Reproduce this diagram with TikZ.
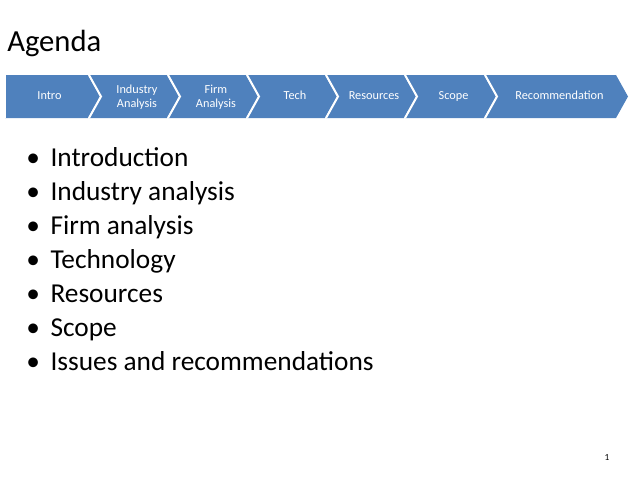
\documentclass[tikz,border=0pt]{standalone}
\usepackage{fontspec}
\setmainfont{Carlito}
\begin{document}
\begin{tikzpicture}[x=0.75pt,y=-0.75pt,
  chevtext/.style={text=white, font=\fontsize{9.2}{10.5}\selectfont, align=center},
  item/.style={anchor=base west, font=\fontsize{20.5}{24}\selectfont, inner sep=0pt}]
\useasboundingbox (0,0) rectangle (638,479);
\definecolor{chevblue}{RGB}{79,129,189}
\node[anchor=base west, inner sep=0pt, font=\fontsize{23}{26}\selectfont] (title) at (7,51) {Agenda};
\def\yt{75}\def\yb{118}\def\ym{96.5}
\foreach \L/\R/\notch/\name/\txt in {5/88/0/c1/Intro, 89/167/12/c2/{Industry\\Analysis}, 168/246/12/c3/{Firm\\Analysis}, 247/325/12/c4/Tech, 326/404/12/c5/Resources, 405/484/12/c6/Scope, 485/616/12/c7/Recommendation}{
  \fill[chevblue] (\L,\yt) -- (\R,\yt) -- (\R+12,\ym) -- (\R,\yb) -- (\L,\yb) -- (\L+\notch,\ym) -- cycle;
  \draw[white, line width=1.5pt] (\L,\yt) -- (\L+\notch,\ym) -- (\L,\yb);
  \node[chevtext] (\name) at ({(\L+\R+\notch+6)/2},\ym) {\strut\txt};
}
\foreach \i/\t in {0/Introduction,1/Industry analysis,2/Firm analysis,3/Technology,4/Resources,5/Scope,6/Issues and recommendations}{
  \node[item] (b\i) at (26,166+34*\i) {•\hspace{8pt}\t};
}
\node[font=\fontsize{7}{8}\selectfont] (pg) at (607,457) {1};
\end{tikzpicture}
\end{document}
